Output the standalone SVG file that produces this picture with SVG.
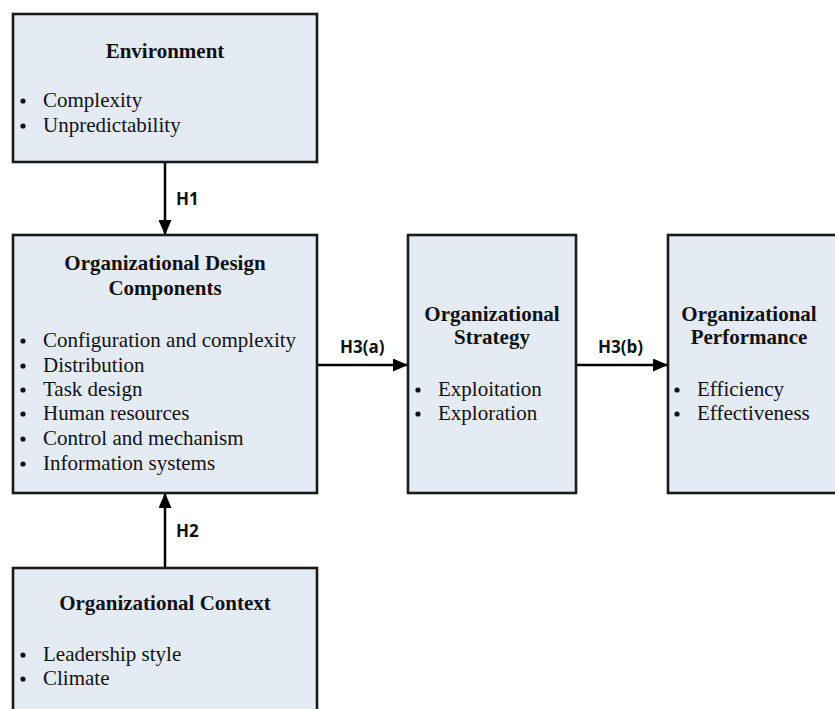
<svg xmlns="http://www.w3.org/2000/svg" width="835" height="709" viewBox="0 0 835 709">
  <defs>
    <marker id="arrow" markerUnits="userSpaceOnUse" markerWidth="15" markerHeight="13" refX="15" refY="6.5" orient="auto">
      <path d="M0,0 L15,6.5 L0,13 z" fill="#000"/>
    </marker>
    <style>
      .box { fill: #e5ebf5; stroke: #1a1a1a; stroke-width: 2.6; }
      .title { font-family: "Liberation Serif", "Times New Roman", serif; font-weight: bold; font-size: 21px; fill: #111; text-anchor: middle; }
      .item { font-family: "Liberation Serif", "Times New Roman", serif; font-size: 21px; fill: #111; }
      .dot { fill: #111; }
      .edge { stroke: #000; stroke-width: 2.5; fill: none; marker-end: url(#arrow); }
      .lbl { font-family: "Open Sans", "Liberation Sans", Arial, sans-serif; font-weight: bold; font-size: 17px; fill: #111; }
    </style>
  </defs>
  <rect width="835" height="709" fill="#fff"/>

  <g id="connectors">
    <line class="edge" x1="165" y1="162" x2="165" y2="235"/>
    <line class="edge" x1="165" y1="568" x2="165" y2="493"/>
    <line class="edge" x1="317" y1="365" x2="408" y2="365"/>
    <line class="edge" x1="576" y1="365" x2="668" y2="365"/>
    <text class="lbl" x="176" y="205">H1</text>
    <text class="lbl" x="176" y="537">H2</text>
    <text class="lbl" x="340" y="353">H3(a)</text>
    <text class="lbl" x="598" y="353">H3(b)</text>
  </g>

  <g id="environment">
    <rect class="box" x="13" y="14" width="304" height="148"/>
    <text class="title" x="165" y="58">Environment</text>
    <circle class="dot" cx="23" cy="101" r="2.6"/>
    <text class="item" x="43" y="107">Complexity</text>
    <circle class="dot" cx="23" cy="126" r="2.6"/>
    <text class="item" x="43" y="132">Unpredictability</text>
  </g>

  <g id="design-components">
    <rect class="box" x="13" y="235" width="304" height="258"/>
    <text class="title" x="165" y="270">Organizational Design</text>
    <text class="title" x="165" y="295">Components</text>
    <circle class="dot" cx="23" cy="341" r="2.6"/>
    <text class="item" x="43" y="347">Configuration and complexity</text>
    <circle class="dot" cx="23" cy="366" r="2.6"/>
    <text class="item" x="43" y="372">Distribution</text>
    <circle class="dot" cx="23" cy="390" r="2.6"/>
    <text class="item" x="43" y="396">Task design</text>
    <circle class="dot" cx="23" cy="414" r="2.6"/>
    <text class="item" x="43" y="420">Human resources</text>
    <circle class="dot" cx="23" cy="439" r="2.6"/>
    <text class="item" x="43" y="445">Control and mechanism</text>
    <circle class="dot" cx="23" cy="464" r="2.6"/>
    <text class="item" x="43" y="470">Information systems</text>
  </g>

  <g id="strategy">
    <rect class="box" x="408" y="235" width="168" height="258"/>
    <text class="title" x="492" y="321">Organizational</text>
    <text class="title" x="492" y="344">Strategy</text>
    <circle class="dot" cx="418" cy="390" r="2.6"/>
    <text class="item" x="438" y="396">Exploitation</text>
    <circle class="dot" cx="418" cy="414" r="2.6"/>
    <text class="item" x="438" y="420">Exploration</text>
  </g>

  <g id="performance">
    <rect class="box" x="668" y="235" width="172" height="258"/>
    <text class="title" x="749" y="321">Organizational</text>
    <text class="title" x="749" y="344">Performance</text>
    <circle class="dot" cx="677" cy="390" r="2.6"/>
    <text class="item" x="697" y="396">Efficiency</text>
    <circle class="dot" cx="677" cy="414" r="2.6"/>
    <text class="item" x="697" y="420">Effectiveness</text>
  </g>

  <g id="context">
    <rect class="box" x="13" y="568" width="304" height="160"/>
    <text class="title" x="165" y="610">Organizational Context</text>
    <circle class="dot" cx="23" cy="655" r="2.6"/>
    <text class="item" x="43" y="661">Leadership style</text>
    <circle class="dot" cx="23" cy="679" r="2.6"/>
    <text class="item" x="43" y="685">Climate</text>
  </g>
</svg>
